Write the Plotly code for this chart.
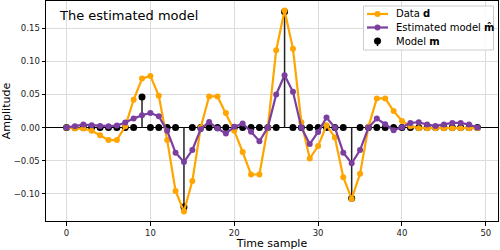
import plotly.graph_objects as go

samples = list(range(50))

data_d = [0.0, -0.0015, -0.0015, -0.005, -0.0116, -0.019, -0.019, 0.002, 0.042, 0.074,
          0.078, 0.048, -0.019, -0.096, -0.127, -0.081, 0.0, 0.047, 0.047, 0.022,
          -0.005, -0.037, -0.071, -0.071, 0.0, 0.117, 0.177, 0.119, 0.008, -0.047,
          -0.028, 0.0035, -0.015, -0.075, -0.108, -0.070, 0.001, 0.044, 0.044, 0.025,
          0.010, 0.002, -0.001, -0.001, -0.001, -0.001, -0.001, -0.001, -0.001, -0.001]

est_m = [0.0, 0.002, 0.0045, 0.0035, 0.0025, 0.002, 0.003, 0.0075, 0.0135, 0.0185,
         0.022, 0.017, -0.005, -0.038, -0.052, -0.034, -0.0025, 0.0085, -0.0015, -0.009,
         0.001, 0.006, -0.0065, -0.0207, 0.0, 0.050, 0.079, 0.054, 0.0, -0.025,
         -0.0066, 0.015, 0.0, -0.038, -0.054, -0.034, 0.0, 0.0135, 0.005, -0.004,
         0.0005, 0.007, 0.008, 0.0045, 0.0025, 0.0045, 0.007, 0.007, 0.0045, 0.0]

model_m = [0.0, 0.0, 0.0, 0.0, 0.0, 0.0, 0.0, 0.0, 0.0, 0.046,
           0.0, 0.0, 0.0, 0.0, -0.12, 0.0, 0.0, 0.0, 0.0, 0.0,
           0.0, 0.0, 0.0, 0.0, 0.0, 0.0, 0.175, 0.0, 0.0, 0.0,
           0.0, 0.0, 0.0, 0.0, -0.107, 0.0, 0.0, 0.0, 0.0, 0.0,
           0.0, 0.0, 0.0, 0.0, 0.0, 0.0, 0.0, 0.0, 0.0, 0.0]

legend_labels = ["Data <b>d</b>", "Estimated model <b>m\u0302</b>", "Model <b>m</b>"]

xtick_vals = [0, 10, 20, 30, 40, 50]
ytick_vals = [-0.10, -0.05, 0.0, 0.05, 0.10, 0.15]
ytick_text = ["\u22120.10", "\u22120.05", "0.00", "0.05", "0.10", "0.15"]

ORANGE = "#FFA500"
PURPLE = "#7B3FA0"
FONT = "DejaVu Sans"
W, H = 500, 250
ML, MR, MT, MB = 46, 2, 1, 29


def px_x(p):
    return (p - ML) / (W - ML - MR)


def px_y(p):
    return 1 - (p - MT) / (H - MT - MB)


stem_x, stem_y = [], []
for xi, yi in zip(samples, model_m):
    stem_x += [xi, xi, None]
    stem_y += [0, yi, None]

fig = go.Figure()
fig.add_trace(go.Scatter(x=stem_x, y=stem_y, mode="lines",
                         line=dict(color="#222222", width=1.5),
                         showlegend=False, hoverinfo="skip"))
fig.add_trace(go.Scatter(x=samples, y=model_m, mode="markers",
                         marker=dict(color="black", size=7),
                         name=legend_labels[2], showlegend=False))
fig.add_trace(go.Scatter(x=samples, y=data_d, mode="lines+markers",
                         line=dict(color=ORANGE, width=2.2),
                         marker=dict(color=ORANGE, size=6),
                         name=legend_labels[0], showlegend=False))
fig.add_trace(go.Scatter(x=samples, y=est_m, mode="lines+markers",
                         line=dict(color=PURPLE, width=2.2),
                         marker=dict(color=PURPLE, size=6),
                         name=legend_labels[1], showlegend=False))

fig.add_annotation(text="The estimated model", xref="paper", yref="paper",
                   x=px_x(57), y=px_y(16), xanchor="left", yanchor="middle",
                   showarrow=False, font=dict(size=13, color="black", family=FONT))

# custom compact legend (matplotlib style)
shapes = [dict(type="rect", xref="paper", yref="paper", layer="above",
               x0=px_x(363.5), x1=px_x(493.5), y0=px_y(50), y1=px_y(6),
               line=dict(color="#cccccc", width=1), fillcolor="rgba(255,255,255,0.85)")]
entry_y = [14, 27.5, 41]
entry_colors = [ORANGE, PURPLE, "black"]
for i, (lab, col, ey) in enumerate(zip(legend_labels, entry_colors, entry_y)):
    if i < 2:
        shapes.append(dict(type="line", xref="paper", yref="paper", layer="above",
                           x0=px_x(367), x1=px_x(388), y0=px_y(ey), y1=px_y(ey),
                           line=dict(color=col, width=2.2)))
    else:
        shapes.append(dict(type="line", xref="paper", yref="paper", layer="above",
                           x0=px_x(377.5), x1=px_x(377.5), y0=px_y(ey), y1=px_y(ey + 5),
                           line=dict(color=col, width=1.5)))
    r = 3.5 if i == 2 else 3
    shapes.append(dict(type="circle", xref="paper", yref="paper", layer="above",
                       xsizemode="pixel", ysizemode="pixel",
                       xanchor=px_x(377.5), yanchor=px_y(ey),
                       x0=-r, x1=r, y0=-r, y1=r,
                       line=dict(color=col, width=0), fillcolor=col))
    fig.add_annotation(text=lab, xref="paper", yref="paper",
                       x=px_x(394), y=px_y(ey), xanchor="left", yanchor="middle",
                       showarrow=False, font=dict(size=10, color="black", family=FONT))

axis_common = dict(showline=True, mirror=True, linecolor="black", linewidth=1,
                   ticks="outside", ticklen=3.5, tickwidth=1, tickcolor="black",
                   showgrid=True, gridcolor="#dcdcdc", gridwidth=0.8,
                   tickfont=dict(size=8.5, color="#222222", family=FONT))

fig.update_xaxes(range=[-2.45, 51.45], tickvals=xtick_vals, zeroline=False,
                 title=dict(text="Time sample", font=dict(size=11, color="black", family=FONT),
                            standoff=2),
                 **axis_common)
fig.update_yaxes(range=[-0.1413, 0.1913], tickvals=ytick_vals, ticktext=ytick_text,
                 zeroline=True, zerolinecolor="black", zerolinewidth=1.2,
                 title=dict(text="Amplitude", font=dict(size=11, color="black", family=FONT),
                            standoff=4),
                 **axis_common)

fig.update_layout(
    width=W, height=H,
    margin=dict(l=ML, r=MR, t=MT, b=MB),
    plot_bgcolor="white", paper_bgcolor="white",
    font=dict(family=FONT, color="black"),
    showlegend=False,
    shapes=shapes,
)

fig.write_html("out.html")
